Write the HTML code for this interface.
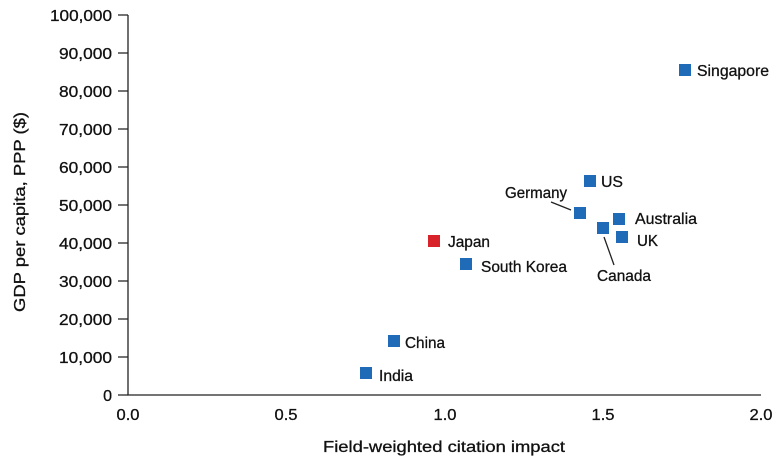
<!DOCTYPE html>
<html><head><meta charset="utf-8"><style>
body{margin:0;background:#fff}
svg text{font-family:"Liberation Sans",sans-serif;font-size:16px;fill:#111;stroke:#111;stroke-width:0.3}
</style></head><body>
<svg width="780" height="468" xmlns="http://www.w3.org/2000/svg">
<g stroke="#222" stroke-width="1.3" fill="none">
<path d="M128,15 V395 H761"/>
<path d="M118,15H128M118,53H128M118,91H128M118,129H128M118,167H128M118,205H128M118,243H128M118,281H128M118,319H128M118,357H128M118,395H128"/>
</g>
<g text-anchor="end" lengthAdjust="spacingAndGlyphs">
<text x="112" y="21" textLength="62" lengthAdjust="spacingAndGlyphs">100,000</text>
<text x="112" y="59" textLength="53" lengthAdjust="spacingAndGlyphs">90,000</text>
<text x="112" y="97" textLength="53" lengthAdjust="spacingAndGlyphs">80,000</text>
<text x="112" y="135" textLength="53" lengthAdjust="spacingAndGlyphs">70,000</text>
<text x="112" y="173" textLength="53" lengthAdjust="spacingAndGlyphs">60,000</text>
<text x="112" y="211" textLength="53" lengthAdjust="spacingAndGlyphs">50,000</text>
<text x="112" y="249" textLength="53" lengthAdjust="spacingAndGlyphs">40,000</text>
<text x="112" y="287" textLength="53" lengthAdjust="spacingAndGlyphs">30,000</text>
<text x="112" y="325" textLength="53" lengthAdjust="spacingAndGlyphs">20,000</text>
<text x="112" y="363" textLength="53" lengthAdjust="spacingAndGlyphs">10,000</text>
<text x="112" y="401">0</text>
</g>
<g text-anchor="middle">
<text x="128" y="420" textLength="23" lengthAdjust="spacingAndGlyphs">0.0</text>
<text x="286" y="420" textLength="23" lengthAdjust="spacingAndGlyphs">0.5</text>
<text x="445" y="420" textLength="23" lengthAdjust="spacingAndGlyphs">1.0</text>
<text x="603" y="420" textLength="23" lengthAdjust="spacingAndGlyphs">1.5</text>
<text x="761" y="420" textLength="23" lengthAdjust="spacingAndGlyphs">2.0</text>
<text x="444" y="452" textLength="242" lengthAdjust="spacingAndGlyphs">Field-weighted citation impact</text>
<text transform="translate(25,212) rotate(-90)" textLength="200" lengthAdjust="spacingAndGlyphs">GDP per capita, PPP ($)</text>
</g>
<g fill="#1f6bb8">
<rect x="679" y="64" width="12" height="12"/>
<rect x="584" y="175" width="12" height="12"/>
<rect x="574" y="207" width="12" height="12"/>
<rect x="613" y="213" width="12" height="12"/>
<rect x="597" y="222" width="12" height="12"/>
<rect x="616" y="231" width="12" height="12"/>
<rect x="460" y="258" width="12" height="12"/>
<rect x="388" y="335" width="12" height="12"/>
<rect x="360" y="367" width="12" height="12"/>
</g>
<rect x="428" y="235" width="12" height="12" fill="#d9232b"/>
<g stroke="#222" stroke-width="1.3">
<path d="M551,202 L571,210"/><path d="M604,237 L614,265"/>
</g>
<text x="697" y="76" textLength="72" lengthAdjust="spacingAndGlyphs">Singapore</text>
<text x="601" y="187" textLength="22" lengthAdjust="spacingAndGlyphs">US</text>
<text x="505" y="198" textLength="62" lengthAdjust="spacingAndGlyphs">Germany</text>
<text x="635" y="224" textLength="62" lengthAdjust="spacingAndGlyphs">Australia</text>
<text x="637" y="246" textLength="21" lengthAdjust="spacingAndGlyphs">UK</text>
<text x="597" y="281" textLength="54" lengthAdjust="spacingAndGlyphs">Canada</text>
<text x="448" y="247" textLength="42" lengthAdjust="spacingAndGlyphs">Japan</text>
<text x="481" y="272" textLength="86" lengthAdjust="spacingAndGlyphs">South Korea</text>
<text x="405" y="348" textLength="40" lengthAdjust="spacingAndGlyphs">China</text>
<text x="379" y="381" textLength="34" lengthAdjust="spacingAndGlyphs">India</text>
</svg>
</body></html>
